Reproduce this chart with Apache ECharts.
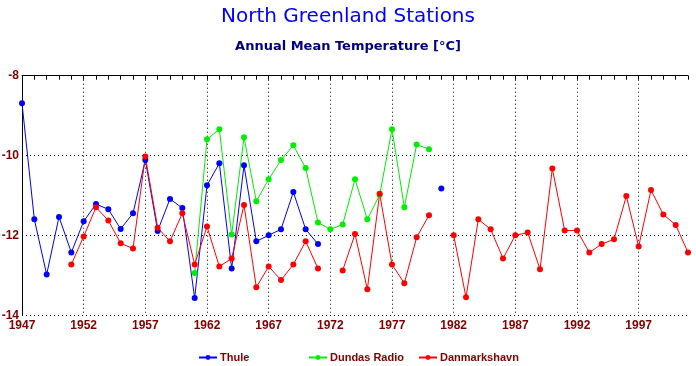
<!DOCTYPE html>
<html><head><meta charset="utf-8">
<script src="https://cdn.jsdelivr.net/npm/echarts@6/dist/echarts.min.js"></script>
<style>html,body{margin:0;padding:0;background:#fff}#c{width:696px;height:366px}</style>
</head><body><div id="c"></div>
<script>
const years = [];
for (let y = 1947; y <= 2001; y++) years.push(String(y));
const yTicks = [-14, -12, -10, -8];
const thule = [-8.69,-11.59,-12.97,-11.53,-12.42,-11.64,-11.21,-11.34,-11.83,-11.44,-10.11,-11.88,-11.08,-11.31,-13.56,-10.74,-10.19,-12.82,-10.24,-12.14,-11.99,-11.84,-10.91,-11.84,-12.21,null,null,null,null,null,null,null,null,null,-10.82];
const dundas = [null,null,null,null,null,null,null,null,null,null,null,null,null,null,-12.93,-9.59,-9.34,-11.97,-9.54,-11.14,-10.59,-10.11,-9.74,-10.31,-11.67,-11.84,-11.72,-10.59,-11.59,-10.98,-9.34,-11.29,-9.72,-9.84];
const danmark = [null,null,null,null,-12.72,-12.02,-11.29,-11.62,-12.19,-12.32,-10.02,-11.80,-12.14,-11.44,-12.72,-11.77,-12.77,-12.57,-11.23,-13.29,-12.77,-13.11,-12.72,-12.14,-12.82,null,-12.87,-11.96,-13.34,-10.95,-12.72,-13.19,-12.04,-11.49,null,-11.99,-13.54,-11.59,-11.84,-12.57,-11.99,-11.92,-12.84,-10.32,-11.87,-11.87,-12.42,-12.21,-12.09,-11.01,-12.27,-10.86,-11.47,-11.73,-12.42];
const names = ['Thule','Dundas Radio','Danmarkshavn'];
const colors = ['#0000ff','#00ee00','#ff0000'];

const chart = echarts.init(document.getElementById('c'));
const dotted = {show:true, lineStyle:{color:'#000', type:[1,3], width:1}};
const mk = (name, data, color) => ({
  name, type:'line', data, xAxisIndex:0, yAxisIndex:0,
  connectNulls:false, symbol:'circle', symbolSize:6, showSymbol:true,
  itemStyle:{color}, lineStyle:{color, width:1}, animation:false
});
const legendCommon = {top:347, itemWidth:18, itemHeight:6, itemGap:0,
  textStyle:{color:'#800000', fontWeight:'bold', fontSize:11, fontFamily:'Liberation Sans', padding:[0,0,0,-2]}};
chart.setOption({
  animation:false,
  backgroundColor:'#fff',
  title:[
    {text:'North Greenland Stations', left:343, top:2, textAlign:'center',
     textStyle:{color:'#0000ff', fontSize:20, fontWeight:'normal', fontFamily:'DejaVu Sans'}},
    {text:'Annual Mean Temperature [°C]', left:343, top:35, textAlign:'center',
     textStyle:{color:'#000080', fontSize:13, fontWeight:'bold', fontFamily:'DejaVu Sans'}}
  ],
  legend:[
    Object.assign({left:193, data:[names[0]]}, legendCommon),
    Object.assign({left:303, data:[names[1]]}, legendCommon),
    Object.assign({left:413, data:[names[2]]}, legendCommon)
  ],
  grid:{left:22, right:8, top:75.7, bottom:50.3, containLabel:false, outerBoundsMode:'none'},
  xAxis:[
    {type:'category', data:years, boundaryGap:false, position:'bottom',
     axisLine:{show:false}, axisTick:{show:false},
     axisLabel:{interval:4, color:'#800000', fontWeight:'bold', fontSize:12, fontFamily:'Liberation Sans', margin:4},
     splitLine:Object.assign({interval:4}, dotted)},
    {type:'category', data:years, boundaryGap:false, position:'top',
     axisLine:{show:true, lineStyle:{color:'#000', width:1}},
     axisTick:{show:true, interval:0, inside:true, length:4, lineStyle:{color:'#000'}},
     axisLabel:{show:false}, splitLine:{show:false}}
  ],
  yAxis:{type:'value', min:yTicks[0], max:yTicks[yTicks.length-1], interval:2,
    axisLine:{show:true, lineStyle:{color:'#000', width:1}},
    axisTick:{show:false},
    axisLabel:{color:'#800000', fontWeight:'bold', fontSize:12, fontFamily:'Liberation Sans', margin:3},
    splitLine:dotted},
  series:[mk(names[0], thule, colors[0]), mk(names[1], dundas, colors[1]), mk(names[2], danmark, colors[2])]
});
</script></body></html>
